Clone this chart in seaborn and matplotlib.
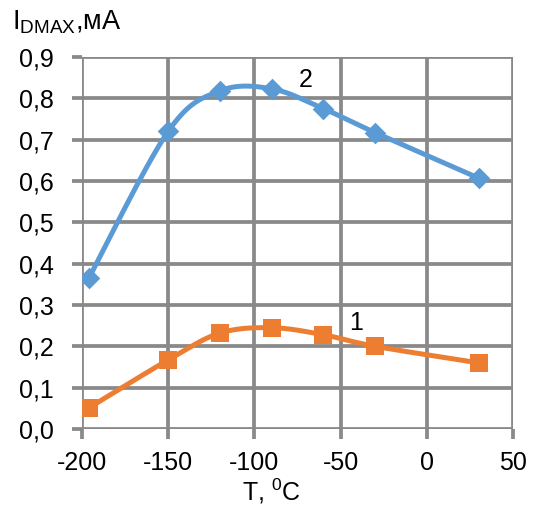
import numpy as np
import pandas as pd
import matplotlib
matplotlib.use("Agg")
import matplotlib.pyplot as plt
import seaborn as sns

# Measured data
temps = [-196, -150, -120, -90, -60, -30, 30]
current_2 = [0.365, 0.72, 0.818, 0.823, 0.775, 0.717, 0.607]
current_1 = [0.051, 0.167, 0.232, 0.245, 0.228, 0.200, 0.160]
curve_labels = ["2", "1"]
label_pos_x = [-70, -41]
label_pos_y = [0.845, 0.257]

BLUE = "#5B9BD5"
ORANGE = "#ED7D31"
GRID = "#898989"


def smooth(x, y, n=40):
    """Uniform Catmull-Rom spline through the points (spreadsheet-style smoothing)."""
    p = np.column_stack([x, y]).astype(float)
    p = np.vstack([p[0], p, p[-1]])
    out = []
    t = np.linspace(0, 1, n)
    for i in range(1, len(p) - 2):
        p0, p1, p2, p3 = p[i - 1], p[i], p[i + 1], p[i + 2]
        c1 = p1 + (p2 - p0) / 6
        c2 = p2 - (p3 - p1) / 6
        seg = ((1 - t) ** 3)[:, None] * p1 + (3 * (1 - t) ** 2 * t)[:, None] * c1 \
            + (3 * (1 - t) * t ** 2)[:, None] * c2 + (t ** 3)[:, None] * p2
        out.append(seg if i == 1 else seg[1:])
    s = np.vstack(out)
    return s[:, 0], s[:, 1]


sns.set_theme(style="white")
plt.rcParams["font.family"] = ["Liberation Sans", "DejaVu Sans"]
plt.rcParams["mathtext.default"] = "regular"
plt.rcParams["axes.unicode_minus"] = False

fig = plt.figure(figsize=(5.39, 5.11), dpi=100)
ax = fig.add_axes([0.152, 0.1605, 0.8, 0.728])

for ys, color, marker, ms in [(current_2, BLUE, "D", 11), (current_1, ORANGE, "s", 12.5)]:
    sx, sy = smooth(temps, ys)
    curve = pd.DataFrame({"T": sx, "I": sy})
    sns.lineplot(data=curve, x="T", y="I", sort=False, estimator=None,
                 color=color, linewidth=3.6, ax=ax, zorder=3)
    pts = pd.DataFrame({"T": temps, "I": ys})
    sns.scatterplot(data=pts, x="T", y="I", marker=marker, s=ms ** 2,
                    color=color, edgecolor=color, linewidth=0, ax=ax, zorder=4)

for lab, lx, ly in zip(curve_labels, label_pos_x, label_pos_y):
    ax.text(lx, ly, lab, fontsize=18, color="black", ha="center", va="center")

ax.set_xlim(-200, 50)
ax.set_ylim(0, 0.9)
ax.set_xticks(np.arange(-200, 51, 50))
ax.set_yticks(np.arange(0, 0.91, 0.1))
ax.set_yticklabels([f"{v:.1f}".replace(".", ",") for v in np.arange(0, 0.91, 0.1)])
ax.grid(True, color=GRID, linewidth=2.7)
ax.set_axisbelow(True)
for s in ax.spines.values():
    s.set_visible(False)
ax.tick_params(axis="both", which="major", length=7, width=2.7, color=GRID,
               labelsize=18, labelcolor="black", direction="out")
ax.tick_params(axis="y", pad=13, left=True)
ax.tick_params(axis="x", pad=9, bottom=True)

ax.set_xlabel("T, $^{0}$C", fontsize=18, color="black", labelpad=0)
ax.xaxis.set_label_coords(0.44, -0.128)
ax.set_ylabel("")
fig.text(0.022, 0.942, "I$_{DMAX}$,мА", fontsize=19.5, color="black", ha="left", va="baseline")

fig.savefig("out.png", dpi=100)
